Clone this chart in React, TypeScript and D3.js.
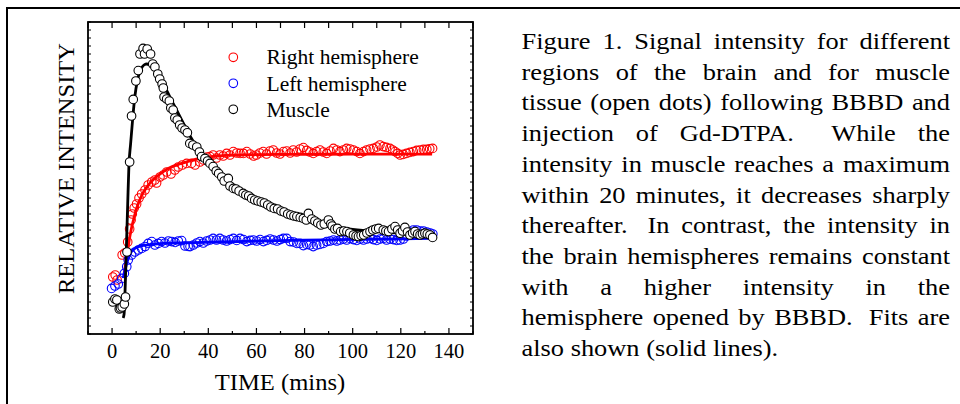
import React, { useMemo } from "react";
import * as d3 from "d3";

// ---------- data (time in minutes, relative intensity in arbitrary units) ----------
const muscle: [number, number][] = [
  [0.3, 16], [1.2, 17.5], [2, 17], [3, 12.5], [3.5, 13], [4.2, 13.5], [5.1, 15], [5.6, 18.5],
  [6.2, 41], [7.3, 86], [8.1, 109], [8.8, 117.3], [9.9, 126.5], [10.9, 131.7], [11.6, 140],
  [12.9, 142.8], [13.5, 140], [14.6, 142.5], [16, 140], [16.9, 135], [17.8, 133.5], [19, 130],
  [19.8, 127.5], [20.8, 125], [21.3, 123], [21.6, 118.5], [22.7, 117.5], [23.8, 116.5], [24.4, 113],
  [25.4, 112], [26.1, 108], [27.1, 107], [28.1, 104.5], [29.1, 103], [30.3, 102], [31.3, 100.6],
  [32.3, 95.3], [33.6, 94.5], [35.2, 93.5], [36.3, 91], [37.2, 88.7], [38.6, 87.8], [39.7, 86.5],
  [40.7, 85.3], [42, 83.7], [43.3, 81.5], [44.3, 80.3], [45.6, 78.5], [46.6, 76.5], [48.3, 77.8],
  [49, 74], [50.4, 72.8], [51.5, 72.5], [52.8, 71.5], [54.5, 70.3], [55.6, 69.5], [56.8, 69],
  [58, 67.8], [59.3, 67], [60.6, 66.5], [62, 66], [63.3, 65.5], [64.7, 64.5], [66, 63.5],
  [67.4, 62.8], [68.8, 62.5], [70.2, 61.5], [71.5, 61], [73, 60], [74.3, 59.5], [75.6, 59],
  [76.8, 58.7], [78.2, 58.3], [79.5, 57.8], [80.7, 57], [81.6, 60.3], [83, 57.5], [84.3, 56.5],
  [85.5, 55.5], [86.8, 54.5], [88.2, 55], [89.9, 57], [90.9, 55], [91.5, 54], [92.6, 52.5],
  [93.7, 52.8], [95, 51.2], [96.3, 51.5], [97.6, 51.2], [98.8, 50.5], [100.3, 49.5], [101.4, 49],
  [102.4, 48.7], [103.5, 49.2], [104.6, 49.5], [105.9, 50.5], [107.2, 51.2], [108.4, 52],
  [109.6, 52.5], [110.8, 52.8], [112.7, 52], [113.8, 51.5], [114.9, 51.2], [116.3, 52.5],
  [117.6, 53.7], [118.7, 52], [119.7, 50.4], [120.7, 51.5], [121.7, 53.3], [122.8, 51],
  [123.8, 49.5], [124.9, 50.5], [125.9, 51.2], [127, 50], [128, 49.5], [129, 50], [130, 50.4],
  [131, 50], [132.1, 49.5], [133.2, 48.3],
];

const rightHemi: [number, number][] = [
  [0.3, 28.5], [1.3, 29.5], [2.1, 27], [4.2, 39.5], [5.3, 40.5], [6.5, 46], [7.3, 52.5], [7.9, 57],
  [8.4, 60], [9.2, 63], [10.2, 65], [11.2, 68], [12.3, 70], [13.7, 72], [15, 74.5], [16.5, 76],
  [17.8, 77], [18.5, 75.5], [19.9, 78.5], [21.3, 79.5], [22.7, 81], [24.5, 80], [26.1, 82],
  [27.5, 83.5], [29.2, 84.5], [31, 85.3], [33, 85.3], [34.5, 84.5], [36.5, 86], [38, 87],
  [39.5, 88.5], [40.7, 88.7], [42, 89.5], [43.4, 88], [44.8, 89.5], [46.2, 89], [47.6, 90.3],
  [49, 89.5], [50.4, 91.2], [51.8, 90.5], [53.2, 90.3], [54.6, 90.3], [56, 91.2], [57.4, 90],
  [58.8, 89], [60, 89.5], [61.4, 90.5], [62.8, 91.2], [64.2, 90], [65.6, 91.5], [67, 92],
  [68.4, 90.5], [69.8, 90], [71.2, 91.2], [72.6, 91.5], [74, 90.5], [75.3, 92], [76.7, 91],
  [78.1, 92.5], [79.5, 93.2], [80.9, 91.8], [82.2, 91], [83.6, 90.3], [85, 91.2], [86.4, 92],
  [87.8, 91], [89.2, 90.3], [90.6, 91.5], [92, 92.8], [93.4, 92], [94.7, 91.2], [96.1, 92],
  [97.5, 92.8], [98.9, 92.5], [100.3, 92], [101.7, 91.2], [103, 90.3], [104.5, 91.2],
  [105.8, 92], [107.2, 92.5], [108.6, 92.8], [110, 93.5], [111.3, 94.5], [112.7, 93.7],
  [114, 93.3], [115.5, 92.8], [116.6, 92], [117.6, 91.2], [118.7, 90.3], [119.7, 89.5],
  [121, 89.8], [122.4, 90.3], [123.8, 90.8], [125.2, 91.2], [126.6, 91.8], [128, 92],
  [129.4, 92.3], [130.8, 92.3], [132, 92.6], [133.2, 92.8],
];

const leftHemi: [number, number][] = [
  [-0.2, 22.8], [1.2, 24], [2.6, 25], [4, 27.8], [5.1, 30.3], [6.1, 33.6], [6.7, 37], [8.1, 39.5],
  [9.5, 41], [10.9, 42], [12.3, 42.8], [13.7, 43.7], [15, 45.3], [16.5, 46.2], [17.8, 44.5],
  [19.2, 45.3], [20.6, 46.2], [22, 45.5], [23.4, 46.5], [24.8, 46.2], [26.2, 45.8], [27.5, 46.5],
  [28.9, 46.7], [30.3, 44], [31.6, 43.8], [32.4, 43.7], [33.8, 44.5], [35.2, 45.5], [36.5, 46.2],
  [37.9, 45.5], [39.3, 46.5], [40.7, 47], [42, 47.8], [43.4, 47], [44.8, 47.8], [46.2, 47],
  [47.6, 46.5], [49, 47.2], [50.4, 47.8], [51.8, 46.8], [53.2, 47.8], [54.6, 47.2], [56, 46.2],
  [57.4, 46.8], [58.8, 47], [60.1, 46.5], [61.5, 47.2], [62.9, 46.2], [64.3, 46.8], [65.7, 47.5],
  [67.1, 47], [68.5, 46.5], [69.9, 47.2], [71.2, 47.8], [72.6, 47.8], [74, 46.2], [75.4, 46],
  [76.8, 45.3], [78.1, 45.3], [79.5, 44.2], [80.9, 44.8], [82.2, 44.5], [83.6, 43.7], [85, 44.5],
  [86.4, 44.8], [87.8, 45.3], [89.2, 46.2], [90.6, 46.5], [92, 47], [93.4, 46.5], [94.7, 47],
  [96.1, 47.5], [97.5, 47], [98.9, 47.8], [100.3, 47.2], [101.7, 46.8], [103.1, 47.5], [104.5, 47],
  [105.9, 47.5], [107.3, 47.8], [108.6, 47.2], [110, 46.8], [111.4, 47.5], [112.8, 47.8],
  [114.1, 47], [115.5, 47.5], [116.9, 47.2], [118.3, 46.8], [119.7, 47], [121.1, 47.5],
  [122.4, 49], [123.8, 51], [125.2, 52], [126.6, 52], [128, 51.5], [129.4, 51.5], [130.8, 51],
  [132.2, 50.5], [133.3, 50],
];

const muscleFit: [number, number][] = [
  [4.6, 8], [5, 10], [5.5, 25], [6, 45], [6.5, 65], [7, 84], [7.7, 95], [8.6, 108], [9.5, 119],
  [10.5, 126.5], [11.5, 131], [12.5, 133.5], [13.5, 134.7], [14.4, 135], [15.5, 134.6],
  [16.5, 133.7], [18.5, 131], [21.3, 125], [24, 118.6], [26.8, 112], [29.6, 105.4], [32.4, 99],
  [35.2, 93.5], [38, 89], [42, 83], [46, 78], [50, 73.5], [55, 69.2], [60, 65.8], [65, 63],
  [70, 60.5], [75, 58.5], [80, 56.8], [85, 55.3], [90, 54], [100, 52.3], [110, 51.2],
  [120, 50.4], [133, 49.8],
];

const rightFit: [number, number][] = [
  [5, 30], [5.5, 34], [6, 38], [6.5, 42], [7, 46], [8, 52.5], [9, 57.5], [10, 62], [11, 65.5],
  [12, 68.5], [13, 70.8], [14, 72.7], [16, 75.8], [18, 78.2], [20, 80], [22, 81.8], [25, 83.7],
  [28, 85], [31, 86.1], [35, 87.4], [40, 88.5], [46, 89.2], [55, 89.6], [70, 89.8], [100, 89.9],
  [133, 89.9],
];

const leftFit: [number, number][] = [
  [4.6, 28], [5.5, 32.5], [6.5, 37], [7.5, 40], [8.5, 41.8], [9.5, 42.8], [11, 43.7], [13, 44.3],
  [16, 44.8], [20, 45.2], [30, 45.6], [45, 46], [60, 46.4], [80, 46.9], [100, 47.3], [120, 47.6],
  [133, 47.8],
];

const xTickLabels = [0, 20, 40, 60, 80, 100, 120, 140];
const legendLabels = ["Right hemisphere", "Left hemisphere", "Muscle"];
const seriesColors = ["#ff0000", "#0000ff", "#000000"];
const xTitle = "TIME (mins)";
const yTitle = "RELATIVE INTENSITY";

const captionLines = [
  "Figure 1. Signal intensity for different",
  "regions of the brain and for muscle",
  "tissue (open dots) following BBBD and",
  "injection of Gd-DTPA.  While the",
  "intensity in muscle reaches a maximum",
  "within 20 minutes, it decreases sharply",
  "thereafter.  In contrast, the intensity in",
  "the brain hemispheres remains constant",
  "with a higher intensity in the",
  "hemisphere opened by BBBD.  Fits are",
  "also shown (solid lines).",
];

const FONT = "'Liberation Serif', 'Times New Roman', serif";

export default function App() {
  const x = d3.scaleLinear().domain([-10, 150]).range([88, 473]);
  const y = d3.scaleLinear().domain([0, 156]).range([334, 22]);
  const [x0, x1] = x.range();
  const [y0, y1] = y.range();

  const line = d3
    .line<[number, number]>()
    .x((d) => x(d[0]))
    .y((d) => y(d[1]))
    .curve(d3.curveMonotoneX);

  const minorX = d3.range(-10, 151, 10);
  const yTicks = d3.range(0, 157, 4);

  // caption layout (justified)
  const caption = useMemo(() => {
    const fs = 24;
    const sx = 1.1;
    const left = 521.5;
    const right = 950;
    const top = 49;
    const lh = 30.7;
    const ctx = document.createElement("canvas").getContext("2d")!;
    ctx.font = `${fs}px 'Liberation Serif'`;
    const m = (s: string) => ctx.measureText(s).width * sx;
    const spaceW = m(" ");
    const out: { text: string; x: number; y: number }[] = [];
    captionLines.forEach((ln, i) => {
      const parts = ln.split(/( +)/);
      const words: string[] = [];
      const weights: number[] = [];
      parts.forEach((p, k) => {
        if (k % 2 === 0) words.push(p);
        else weights.push(p.length >= 2 ? 1.7 : 1);
      });
      const widths = words.map(m);
      const total = widths.reduce((a, b) => a + b, 0);
      const last = i === captionLines.length - 1;
      const wsum = weights.reduce((a, b) => a + b, 0);
      const unit = last || wsum === 0 ? spaceW : (right - left - total) / wsum;
      let cx = left;
      words.forEach((w, k) => {
        out.push({ text: w, x: cx, y: top + i * lh });
        cx += widths[k] + (k < weights.length ? unit * weights[k] : 0);
      });
    });
    return { out, fs, sx };
  }, []);

  const seriesData = [rightHemi, leftHemi, muscle];
  const fitData = [rightFit, leftFit, muscleFit];

  return (
    <svg
      width={960}
      height={404}
      style={{ position: "fixed", left: 0, top: 0, background: "#fff" }}
      fontFamily={FONT}
    >
      <rect x={0} y={0} width={960} height={404} fill="#fff" />
      {/* outer frame (cut off at right and bottom) */}
      <path d="M7,420 V8 H970" fill="none" stroke="#000" strokeWidth={2} />

      {/* fits and points */}
      <g>
        {[0, 1].map((i) => (
          <path key={"f" + i} d={line(fitData[i]) || ""} fill="none" stroke={seriesColors[i]} strokeWidth={2.8} />
        ))}
        {[0, 1].map((i) =>
          seriesData[i].map((d, k) => (
            <circle
              key={"p" + i + "-" + k}
              cx={x(d[0])}
              cy={y(d[1])}
              r={4.3}
              fill="none"
              stroke={seriesColors[i]}
              strokeWidth={1.1}
            />
          ))
        )}
        <path d={line(muscleFit) || ""} fill="none" stroke="#000" strokeWidth={2.8} />
        {muscle.map((d, k) => (
          <circle key={"m" + k} cx={x(d[0])} cy={y(d[1])} r={4.3} fill="#fff" stroke="#000" strokeWidth={1.1} />
        ))}
      </g>

      {/* plot frame */}
      <rect x={x0} y={y1} width={x1 - x0} height={y0 - y1} fill="none" stroke="#000" strokeWidth={1.8} />
      {/* x ticks */}
      {minorX.map((t) => {
        const major = t % 20 === 0;
        return (
          <g key={"xt" + t}>
            <line x1={x(t)} x2={x(t)} y1={y0} y2={y0 - (major ? 6 : 3)} stroke="#000" strokeWidth={1.2} />
            <line x1={x(t)} x2={x(t)} y1={y1} y2={y1 + 6} stroke="#000" strokeWidth={1.2} />
          </g>
        );
      })}
      {/* y ticks */}
      {yTicks.map((t) => (
        <g key={"yt" + t}>
          <line x1={x0} x2={x0 + 3} y1={y(t)} y2={y(t)} stroke="#000" strokeWidth={1} />
          <line x1={x1} x2={x1 - 3} y1={y(t)} y2={y(t)} stroke="#000" strokeWidth={1} />
        </g>
      ))}
      {/* x tick labels */}
      {xTickLabels.map((t) => (
        <text key={"xl" + t} x={x(t)} y={358} fontSize={20.5} textAnchor="middle" fill="#000">
          {t}
        </text>
      ))}
      {/* axis titles */}
      <text transform="translate(280,390) scale(1.07,1)" fontSize={23} textAnchor="middle" fill="#000">
        {xTitle}
      </text>
      <text transform="translate(73.5,168.5) rotate(-90) scale(1.065,1)" fontSize={23} textAnchor="middle" fill="#000">
        {yTitle}
      </text>

      {/* legend */}
      {legendLabels.map((lab, i) => (
        <g key={"lg" + i}>
          <circle
            cx={233.3}
            cy={57.3 + i * 26}
            r={4.3}
            fill={i === 2 ? "#fff" : "none"}
            stroke={seriesColors[i]}
            strokeWidth={1.1}
          />
          <text transform={`translate(266.5,${64.3 + i * 26.2}) scale(1.05,1)`} fontSize={20.5} fill="#000">
            {lab}
          </text>
        </g>
      ))}

      {/* caption */}
      {caption.out.map((w, k) => (
        <text
          key={"c" + k}
          transform={`translate(${w.x},${w.y}) scale(${caption.sx},1)`}
          fontSize={caption.fs}
          fill="#000"
        >
          {w.text}
        </text>
      ))}
    </svg>
  );
}
